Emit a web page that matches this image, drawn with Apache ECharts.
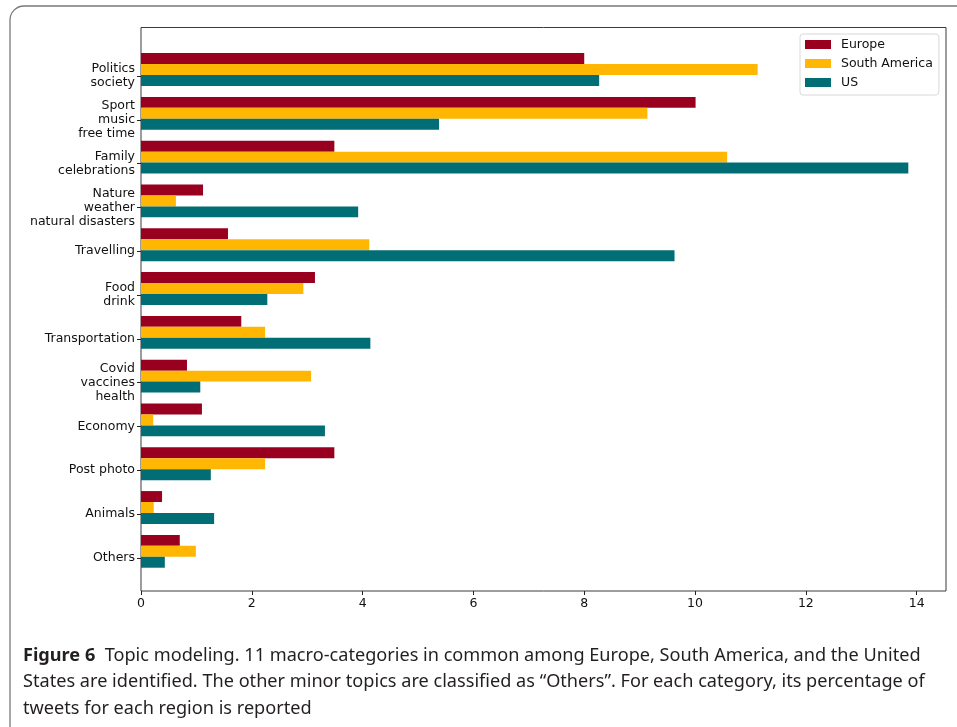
<!DOCTYPE html>
<html>
<head>
<meta charset="utf-8">
<script src="https://cdn.jsdelivr.net/npm/echarts@6/dist/echarts.min.js"></script>
<style>
  html, body { margin: 0; padding: 0; background: #fff; }
  #chart { width: 957px; height: 727px; }
</style>
</head>
<body>
<div id="chart"></div>
<script>
// Topic categories (top to bottom)
const categories = [
  'Politics\nsociety',
  'Sport\nmusic\nfree time',
  'Family\ncelebrations',
  'Nature\nweather\nnatural disasters',
  'Travelling',
  'Food\ndrink',
  'Transportation',
  'Covid\nvaccines\nhealth',
  'Economy',
  'Post photo',
  'Animals',
  'Others'
];

// Share of tweets (%) per region
const europe       = [8.00, 10.01, 3.49, 1.12, 1.57, 3.14, 1.81, 0.83, 1.10, 3.49, 0.38, 0.70];
const southAmerica = [11.13, 9.14, 10.58, 0.63, 4.12, 2.93, 2.24, 3.07, 0.22, 2.24, 0.23, 0.99];
const us           = [8.27, 5.38, 13.85, 3.92, 9.63, 2.28, 4.14, 1.07, 3.32, 1.26, 1.32, 0.43];

const seriesNames = ['Europe', 'South America', 'US'];
const xTicks = [0, 2, 4, 6, 8, 10, 12, 14];

const captionLines = [
  '{b|Figure 6}  Topic modeling. 11 macro-categories in common among Europe, South America, and the United',
  'States are identified. The other minor topics are classified as \u201cOthers\u201d. For each category, its percentage of',
  'tweets for each region is reported'
];

const colors = ['#99001f', '#ffb703', '#016e75'];
const FONT = 'DejaVu Sans';
const CAPTION_FONT = '"Noto Sans", sans-serif';
const X_MAX = 14.53;

const chart = echarts.init(document.getElementById('chart'), null, { renderer: 'canvas' });

const option = {
  animation: false,
  color: colors,
  textStyle: { fontFamily: FONT },
  grid: [
    // plot frame with value axis
    { left: 141, top: 27.5, width: 805, height: 563.5, show: true, borderColor: '#3a3a3a', borderWidth: 1, backgroundColor: 'transparent' },
    // category labels / ticks
    { left: 141, top: 54.1, width: 805, height: 525.6 },
    // bars
    { left: 141, top: 47.6, width: 805, height: 525.6 }
  ],
  xAxis: [
    {
      gridIndex: 0, type: 'value', min: 0, max: X_MAX,
      axisLine: { show: false },
      splitLine: { show: false },
      axisTick: { show: true, length: 4, lineStyle: { color: '#222' }, customValues: xTicks },
      axisLabel: { color: '#111', fontSize: 12.5, fontFamily: FONT, margin: 6, customValues: xTicks }
    },
    { gridIndex: 1, type: 'value', min: 0, max: X_MAX, show: false },
    { gridIndex: 2, type: 'value', min: 0, max: X_MAX, show: false }
  ],
  yAxis: [
    { gridIndex: 0, type: 'value', min: 0, max: 1, show: false },
    {
      gridIndex: 1, type: 'category', data: categories, inverse: true,
      axisLine: { show: false },
      axisTick: { show: true, alignWithLabel: true, length: 4, lineStyle: { color: '#222' } },
      axisLabel: { color: '#111', fontSize: 12.5, fontFamily: FONT, lineHeight: 14, margin: 6, align: 'right' }
    },
    { gridIndex: 2, type: 'category', data: categories, inverse: true, show: false }
  ],
  legend: {
    orient: 'vertical',
    left: 800, top: 34,
    data: seriesNames,
    icon: 'rect',
    itemWidth: 26, itemHeight: 9, itemGap: 5,
    padding: [3.5, 6, 5.5, 5],
    borderColor: '#d8d8d8', borderWidth: 1, borderRadius: 3,
    backgroundColor: '#fff',
    textStyle: { color: '#111', fontSize: 12.5, fontFamily: FONT, lineHeight: 14, padding: [0, 0, 0, 5] }
  },
  series: seriesNames.map((name, i) => ({
    name,
    type: 'bar',
    xAxisIndex: 2, yAxisIndex: 2,
    data: [europe, southAmerica, us][i],
    barWidth: '25%',
    barGap: '0%',
    itemStyle: { color: colors[i] }
  })),
  graphic: [
    // rounded figure border
    {
      type: 'rect', silent: true, z: -1,
      shape: { x: 10, y: 6, width: 970, height: 760, r: 14 },
      style: { fill: 'none', stroke: '#7a7a7a', lineWidth: 1.3 }
    },
    // caption
    {
      type: 'text', x: 23, y: 642, scaleX: 0.98, silent: true,
      style: {
        text: captionLines.join('\n'),
        font: '18.5px ' + CAPTION_FONT,
        fill: '#231f20',
        lineHeight: 26.5,
        verticalAlign: 'top',
        align: 'left',
        rich: {
          b: { fontWeight: 'bold', fontSize: 18.5, fontFamily: CAPTION_FONT, fill: '#231f20', lineHeight: 26.5 }
        }
      }
    }
  ]
};

chart.setOption(option);
</script>
</body>
</html>
